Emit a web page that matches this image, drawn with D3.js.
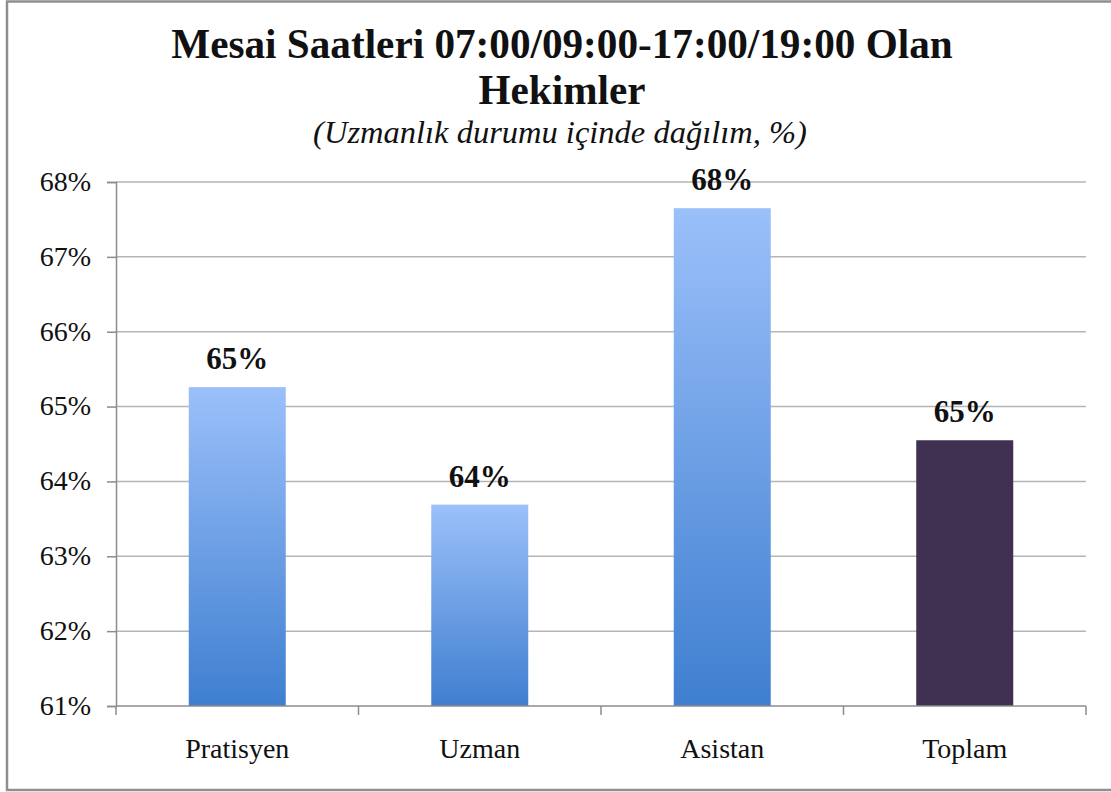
<!DOCTYPE html>
<html>
<head>
<meta charset="utf-8">
<script src="https://cdn.jsdelivr.net/npm/d3@7"></script>
<style>
  html, body { margin: 0; padding: 0; background: #fff; }
  svg { display: block; }
  svg text { font-family: "Liberation Serif", "DejaVu Serif", serif !important; fill: #111; }
</style>
</head>
<body>
<svg id="chart" width="1111" height="792"></svg>
<script>
const categories = ["Pratisyen", "Uzman", "Asistan", "Toplam"];
const values = [65.26, 63.69, 67.65, 64.55];
const yTicks = [61, 62, 63, 64, 65, 66, 67, 68];
const titleLines = ["Mesai Saatleri 07:00/09:00-17:00/19:00 Olan", "Hekimler"];
const subtitle = "(Uzmanlık durumu içinde dağılım, %)";

const svg = d3.select("#chart");
const plot = { left: 116, right: 1086, top: 182, bottom: 706 };
const serif = '"Liberation Serif", "DejaVu Serif", serif';

// outer frame
svg.append("rect")
  .attr("x", 7).attr("y", 1.5).attr("width", 1120).attr("height", 788.5)
  .attr("fill", "none").attr("stroke", "#8f8f8f").attr("stroke-width", 2.5);

// gradient for bars
const defs = svg.append("defs");
const grad = defs.append("linearGradient").attr("id", "blueGrad")
  .attr("x1", 0).attr("y1", 0).attr("x2", 0).attr("y2", 1);
grad.append("stop").attr("offset", "0%").attr("stop-color", "#9bc0fa");
grad.append("stop").attr("offset", "100%").attr("stop-color", "#3f7fd0");

const x = d3.scaleBand().domain(categories).range([plot.left, plot.right]).padding(0);
const y = d3.scaleLinear().domain([61, 68]).range([plot.bottom, plot.top]);

// gridlines
svg.append("g").selectAll("line")
  .data(yTicks.filter(t => t > 61))
  .join("line")
  .attr("x1", plot.left).attr("x2", plot.right)
  .attr("y1", d => y(d)).attr("y2", d => y(d))
  .attr("stroke", "#b5b5b5").attr("stroke-width", 1.5);

// bars
const barW = x.bandwidth() * 0.4;
svg.append("g").selectAll("rect")
  .data(categories.map((c, i) => ({ c, v: values[i], i })))
  .join("rect")
  .attr("x", d => x(d.c) + (x.bandwidth() - barW) / 2)
  .attr("width", barW)
  .attr("y", d => y(d.v))
  .attr("height", d => y(61) - y(d.v))
  .attr("fill", d => d.c === "Toplam" ? "#403152" : "url(#blueGrad)");

// value labels
svg.append("g").selectAll("text")
  .data(categories.map((c, i) => ({ c, v: values[i] })))
  .join("text")
  .attr("x", d => x(d.c) + x.bandwidth() / 2)
  .attr("y", d => y(d.v) - 18)
  .attr("text-anchor", "middle")
  .attr("font-weight", "bold")
  .attr("font-size", 31)
  .text(d => Math.round(d.v) + "%");

// y axis
const yAxis = d3.axisLeft(y).tickValues(yTicks).tickFormat(d => d + "%").tickSize(9).tickPadding(16);
const gy = svg.append("g").attr("transform", `translate(${plot.left},0)`).call(yAxis)
  .attr("font-family", null).attr("font-size", null);
gy.select(".domain").attr("stroke", "#8c8c8c").attr("stroke-width", 1.5);
gy.selectAll(".tick line").attr("stroke", "#8c8c8c").attr("stroke-width", 1.5);
gy.selectAll(".tick text").style("font-size", "28px").style("font-family", serif)
  .attr("fill", "#111").attr("dy", "0.3em");

// x axis: labels at band centres, ticks at band boundaries
const xAxis = d3.axisBottom(x).tickSize(0).tickPadding(52);
const gx = svg.append("g").attr("transform", `translate(0,${plot.bottom})`).call(xAxis)
  .attr("font-family", null).attr("font-size", null);
gx.select(".domain").remove();
gx.selectAll(".tick text").style("font-size", "28px").style("font-family", serif)
  .attr("fill", "#111").attr("dy", "0");
svg.append("line")
  .attr("x1", plot.left).attr("x2", plot.right)
  .attr("y1", plot.bottom).attr("y2", plot.bottom)
  .attr("stroke", "#8c8c8c").attr("stroke-width", 1.5);
const bounds = categories.map(c => x(c)).concat([x(categories[categories.length - 1]) + x.bandwidth()]);
svg.append("g").selectAll("line")
  .data(bounds)
  .join("line")
  .attr("x1", d => d).attr("x2", d => d)
  .attr("y1", plot.bottom).attr("y2", plot.bottom + 9)
  .attr("stroke", "#8c8c8c").attr("stroke-width", 1.5);

// title
svg.append("text").attr("x", 562).attr("y", 58).attr("text-anchor", "middle")
  .attr("font-weight", "bold").attr("font-size", 41.2).text(titleLines[0]);
svg.append("text").attr("x", 562).attr("y", 104).attr("text-anchor", "middle")
  .attr("font-weight", "bold").attr("font-size", 41.2).text(titleLines[1]);
svg.append("text").attr("x", 560).attr("y", 143).attr("text-anchor", "middle")
  .attr("font-style", "italic").attr("font-size", 32.5).text(subtitle);
</script>
</body>
</html>
